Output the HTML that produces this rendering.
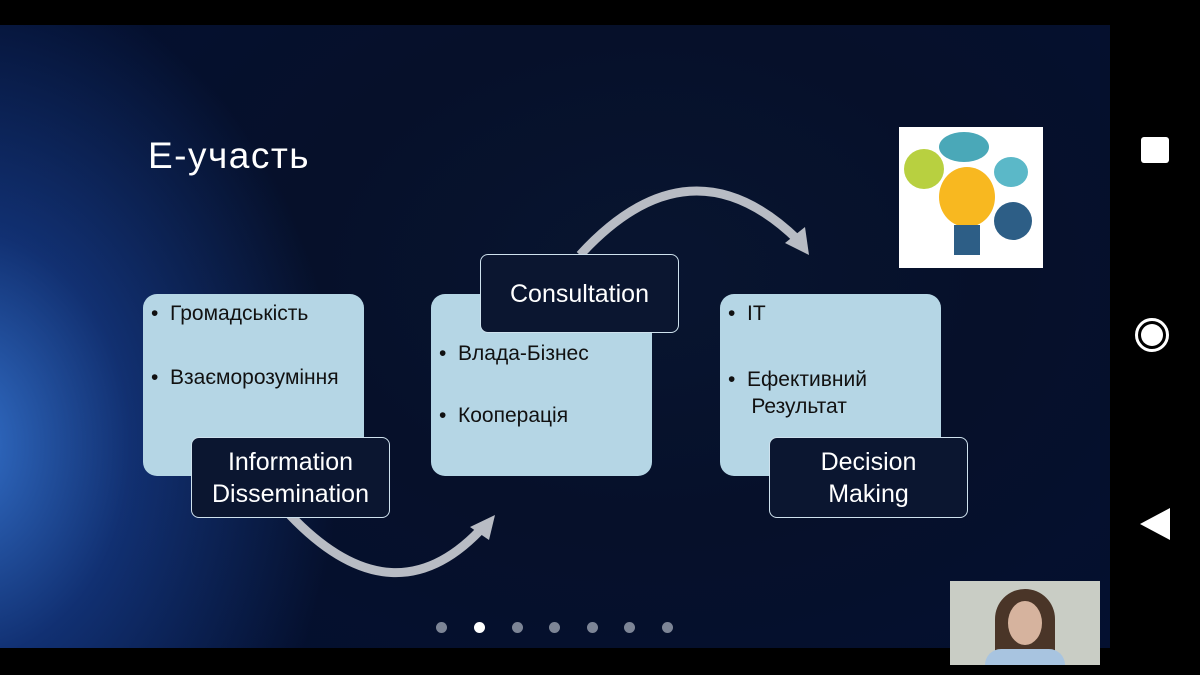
<!DOCTYPE html>
<html style="margin:0;width:1200px;height:675px;overflow:hidden"><head><meta charset="utf-8"><style>
body{margin:0;width:1200px;height:675px;background:#000;position:relative;overflow:hidden;font-family:"Liberation Sans","DejaVu Sans",sans-serif}
.slide{position:absolute;left:0;top:25px;width:1110px;height:623px;background:radial-gradient(ellipse 380px 480px at -40px 420px,rgba(60,130,230,.85) 0%,rgba(30,80,180,.5) 45%,rgba(10,30,80,0) 100%),radial-gradient(ellipse 700px 500px at 650px 250px,#081530 0%,#06102a 50%,#041030 100%);overflow:hidden}
.lb{position:absolute;background:#b5d6e5;border-radius:14px;width:221px;height:182px;top:269px;color:#111;font-size:21px}
.lb div{position:absolute;left:8px;white-space:nowrap}
.db{position:absolute;background:#0b1630;border:1.5px solid #cfe2ee;border-radius:8px;color:#fff;font-size:25px;text-align:center;display:flex;align-items:center;justify-content:center;line-height:32px}
.dot{position:absolute;top:597px;width:11px;height:11px;border-radius:50%;background:#7d8596}
</style></head><body>
<div class="slide">
<div style="position:absolute;left:148px;top:110px;color:#fff;font-size:37px;letter-spacing:1.5px">Е-участь</div>
<svg style="position:absolute;left:0;top:0" width="1110" height="623">
<path d="M290 490 Q395 600 485 500" fill="none" stroke="#b8bcc4" stroke-width="9"/>
<polygon points="495,490 470,502 489,515" fill="#b8bcc4"/>
<path d="M580 230 Q690 110 798 215" fill="none" stroke="#b8bcc4" stroke-width="9"/>
<polygon points="809,230 785,218 805,202" fill="#b8bcc4"/>
</svg>
<div class="lb" style="left:143px"><div style="top:8px">•&nbsp; Громадськість</div><div style="top:72px">•&nbsp; Взаєморозуміння</div></div>
<div class="lb" style="left:431px"><div style="top:48px">•&nbsp; Влада-Бізнес</div><div style="top:110px">•&nbsp; Кооперація</div></div>
<div class="lb" style="left:720px"><div style="top:8px">•&nbsp; IT</div><div style="top:72px;line-height:27px">•&nbsp; Ефективний<br>&nbsp;&nbsp;&nbsp; Результат</div></div>
<div class="db" style="left:191px;top:412px;width:197px;height:79px">Information<br>Dissemination</div>
<div class="db" style="left:480px;top:229px;width:197px;height:77px">Consultation</div>
<div class="db" style="left:769px;top:412px;width:197px;height:79px">Decision<br>Making</div>
<div style="position:absolute;left:899px;top:102px;width:144px;height:141px;background:#fff;overflow:hidden">
<div style="position:absolute;left:40px;top:40px;width:56px;height:60px;border-radius:50%;background:#f8b820"></div>
<div style="position:absolute;left:55px;top:98px;width:26px;height:30px;background:#2d5e86"></div>
<div style="position:absolute;left:5px;top:22px;width:40px;height:40px;border-radius:50%;background:#b8d040"></div>
<div style="position:absolute;left:95px;top:75px;width:38px;height:38px;border-radius:50%;background:#2d5e86"></div>
<div style="position:absolute;left:95px;top:30px;width:34px;height:30px;border-radius:50%;background:#5bb8c8"></div>
<div style="position:absolute;left:40px;top:5px;width:50px;height:30px;border-radius:50%;background:#4aa8b8"></div>
</div>
<div class="dot" style="left:436px"></div><div class="dot" style="left:474px;background:#fff"></div><div class="dot" style="left:512px"></div><div class="dot" style="left:549px"></div><div class="dot" style="left:587px"></div><div class="dot" style="left:624px"></div><div class="dot" style="left:662px"></div>
</div>
<div style="position:absolute;left:950px;top:581px;width:150px;height:84px;background:#c9cdc5;overflow:hidden">
<div style="position:absolute;left:45px;top:8px;width:60px;height:76px;border-radius:30px 30px 10px 10px;background:#4a3528"></div>
<div style="position:absolute;left:58px;top:20px;width:34px;height:44px;border-radius:50%;background:#d6b39e"></div>
<div style="position:absolute;left:35px;top:68px;width:80px;height:16px;border-radius:20px 20px 0 0;background:#a8c4e0"></div>
</div>
<div style="position:absolute;left:1141px;top:137px;width:28px;height:26px;background:#fff;border-radius:3px"></div>
<div style="position:absolute;left:1135px;top:318px;width:34px;height:34px;border:3px solid #fff;border-radius:50%;box-sizing:border-box"></div>
<div style="position:absolute;left:1141px;top:324px;width:22px;height:22px;background:#fff;border-radius:50%"></div>
<div style="position:absolute;left:1140px;top:508px;width:0;height:0;border-top:16px solid transparent;border-bottom:16px solid transparent;border-right:30px solid #fff"></div>
</body></html>
